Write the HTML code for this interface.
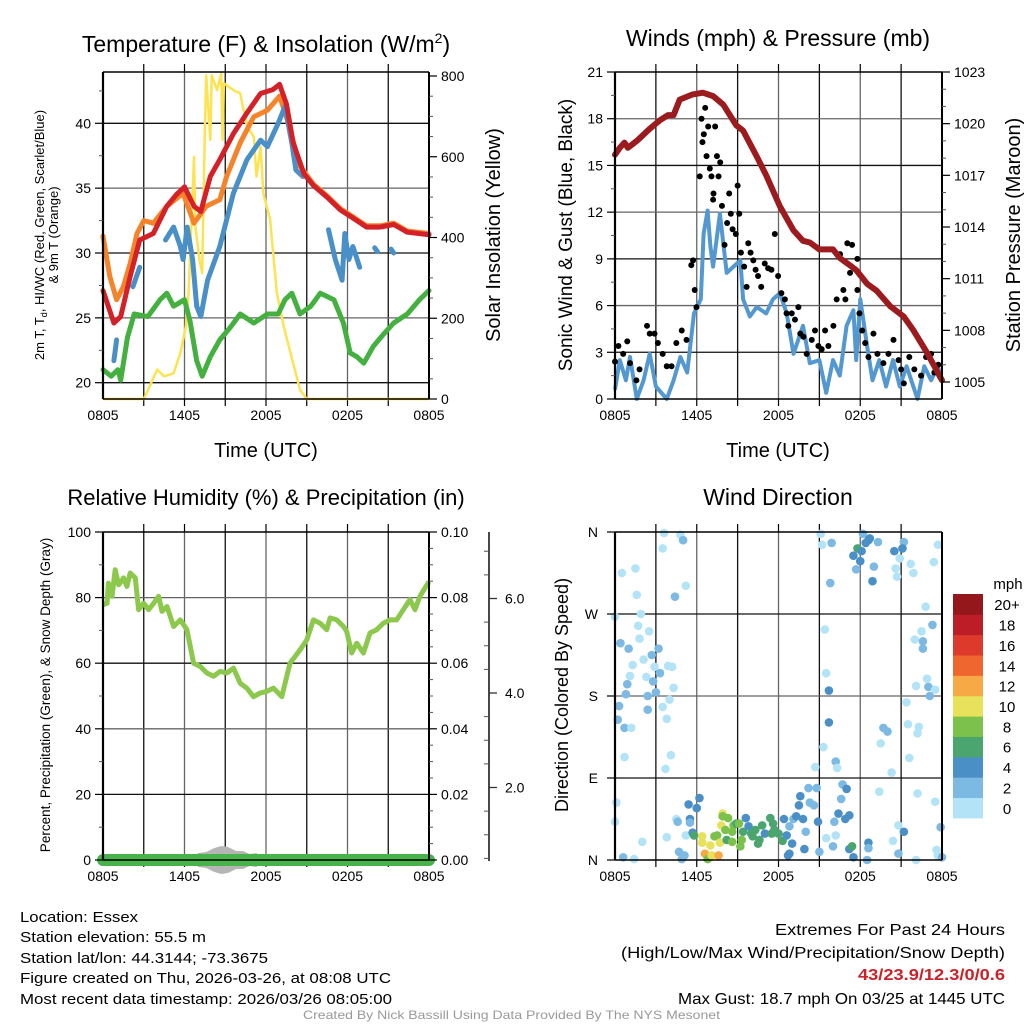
<!DOCTYPE html>
<html><head><meta charset="utf-8">
<style>
html,body{margin:0;padding:0;background:#fff;}
svg{display:block;font-family:"Liberation Sans",sans-serif;}
</style></head>
<body>
<svg id="fig" width="1024" height="1024" viewBox="0 0 1024 1024" xmlns="http://www.w3.org/2000/svg">
<rect width="1024" height="1024" fill="#fff"/>
<g id="p1"></g>
<g id="p2"></g>
<g id="p3"></g>
<g id="p4"></g>
<g font-size="15" fill="#000">
<text x="20" y="922" textLength="118" lengthAdjust="spacingAndGlyphs">Location: Essex</text>
<text x="20" y="942" textLength="186" lengthAdjust="spacingAndGlyphs">Station elevation: 55.5 m</text>
<text x="20" y="963" textLength="248" lengthAdjust="spacingAndGlyphs">Station lat/lon: 44.3144; -73.3675</text>
<text x="20" y="983" textLength="371" lengthAdjust="spacingAndGlyphs">Figure created on Thu, 2026-03-26, at 08:08 UTC</text>
<text x="20" y="1004" textLength="372" lengthAdjust="spacingAndGlyphs">Most recent data timestamp: 2026/03/26 08:05:00</text>
</g>
<g font-size="16" fill="#000">
<text x="775" y="935" textLength="230" lengthAdjust="spacingAndGlyphs">Extremes For Past 24 Hours</text>
<text x="621" y="958" textLength="384" lengthAdjust="spacingAndGlyphs">(High/Low/Max Wind/Precipitation/Snow Depth)</text>
<text x="858" y="980" textLength="147" lengthAdjust="spacingAndGlyphs" fill="#cc2127" font-weight="bold">43/23.9/12.3/0/0.6</text>
<text x="678" y="1004" textLength="327" lengthAdjust="spacingAndGlyphs">Max Gust: 18.7 mph On 03/25 at 1445 UTC</text>
</g>
<text x="303" y="1019" font-size="12" fill="#999" textLength="417" lengthAdjust="spacingAndGlyphs">Created By Nick Bassill Using Data Provided By The NYS Mesonet</text>
</svg>
<script>
// ---------- Panel 1 data (hours after 0805 UTC) ----------
const tHours=[0,0.8,1.3,2,2.7,3.7,4.7,5.4,6,6.7,7.2,7.9,8.6,9.6,10.6,11.6,12.5,13,13.5,14,14.8,15.5,16.5,17.5,18.4,19.4,20.4,21.4,22.4,24];
const tempRed=[27.1,24.6,25.1,28.2,31,31.5,33.6,34.5,35.1,33.6,33.2,35.9,37.2,39.2,40.8,42.3,42.6,43,41.5,38.5,36.1,35.2,34.3,33.3,32.7,32,32,32.2,31.6,31.4];
const t9Hours=[0,0.5,1,1.5,2,2.5,3,3.7,4.7,5.9,6.7,7.6,8.6,9.1,10.1,11.1,12.1,13,13.5,14.5,15.5,16.5,17.5,18.4,19.4,20.4,21.4,22.4,24];
const temp9m=[31.3,28.2,26.4,27.4,29.2,31.5,32.5,32.3,33.6,34.6,32.3,33.6,34.1,35.9,38.5,40.5,41,42.1,40.5,36.7,35.3,34.4,33.4,32.8,32.1,32.1,32.3,31.7,31.5];
const tdHours=[0.8,1.0,null,2.2,2.7,null,4.6,5.2,5.7,5.9,6.2,6.6,6.9,7.2,7.7,8.6,9.6,10.6,11.6,12.1,12.9,13.4,13.9,14.2,14.7,null,16.6,17.1,17.6,17.8,18.1,18.4,18.9,null,20.0,20.2,null,21.2,21.4];
const dewBlue=[21.7,23.3,null,27.4,28.9,null,31,32,30.5,29.5,32,29.5,25.9,25.1,27.9,30.5,34.6,37.2,38.7,38.2,40,41.3,38.5,36.4,35.9,null,31.8,29.5,27.9,31.5,29.5,30.5,28.9,null,30.4,30.1,null,30.3,30.0];
const wcHours=[0,0.6,1.1,1.3,1.8,2.3,3.3,4.2,4.7,5.2,6,6.4,6.9,7.3,7.9,8.6,9.4,10.1,11.1,12.1,12.9,13.4,13.9,14.5,15.3,16,17,17.7,18.2,18.7,19.2,19.9,20.7,21.4,22.4,23.3,24];
const wcGreen=[21,20.5,21,20.2,23.5,25.3,25.1,26.4,26.9,25.9,26.4,24.8,21.7,20.5,22,23.3,24.3,25.3,24.6,25.3,25.3,26.4,26.9,25.3,25.9,26.9,26.4,24.6,22.3,22,21.5,22.8,23.8,24.6,25.3,26.4,27.1];
const solHours=[0,3.0,4.0,4.5,5.2,5.7,6.1,6.3,6.6,6.7,6.8,7.1,7.3,7.5,7.6,7.9,8.0,8.4,8.7,8.8,8.9,9.6,10.1,10.6,11.1,11.3,11.6,11.8,12.3,12.8,13.3,13.8,14.5,15.0,24];
const solar=[0,0,73,56,64,114,180,262,510,600,427,345,312,675,802,642,802,765,806,642,782,765,757,675,650,551,625,510,444,262,180,114,23,0,0];
// ---------- Panel 2 data ----------
const wHours=[0,0.35,0.8,1.1,1.6,2.1,2.55,3.0,3.8,4.3,4.8,5.3,5.8,6.3,6.5,6.8,7.0,7.2,7.7,8.2,8.7,9.2,9.4,9.9,10.4,11.1,11.6,12.1,12.6,13.1,13.8,14.3,15.0,15.5,16.0,16.5,17.0,17.5,17.7,18.0,18.5,18.9,19.4,19.9,20.4,20.9,21.4,22.2,22.7,23.2,23.7,24];
const windSpd=[0.6,2.5,1.2,2.7,0,1.2,2.9,0.8,0,1.2,2.7,1.7,5.5,6.4,10.6,12.1,9.8,8.5,11.9,8.1,8.5,8.9,6.4,5.3,5.9,5.5,6.4,6.8,5.5,2.9,4.7,2.3,2.5,0.4,2.5,1.5,4.7,5.7,2.5,6.4,3.4,1.2,2.5,0.8,2.5,0.8,2.1,0,2.1,1.2,2.1,1.2];
const gustHours=[0,0.25,0.6,0.9,1.1,1.57,1.8,2.35,2.55,2.9,3.15,3.5,3.8,4.15,4.5,4.9,5.25,5.6,5.73,5.85,5.98,6.22,6.35,6.42,6.52,6.62,6.72,6.84,6.96,7.08,7.2,7.23,7.35,7.48,7.6,7.72,7.85,8.04,8.23,8.38,8.5,8.63,8.87,9.0,9.12,9.24,9.48,9.66,9.78,9.95,10.15,10.32,10.5,10.73,10.99,11.24,11.48,11.73,11.97,12.21,12.47,12.59,12.72,12.97,13.21,13.46,13.6,13.83,14.07,14.44,14.68,14.93,15.17,15.42,15.66,16.03,16.27,16.52,16.76,16.91,17.05,17.25,17.4,17.79,17.79,17.94,18.14,18.36,18.6,18.97,19.26,19.7,20.07,20.44,20.81,21.0,21.2,21.6,21.97,22.46,22.83,23.2,23.44,23.73];
const gustSpd=[2.4,3.4,2.9,3.7,2.3,1.2,1.9,4.7,4.2,4.2,3.6,2.9,2.1,2.1,3.6,4.4,3.8,8.6,8.9,7,5.9,14.3,18,16.5,17,18.7,15.6,17.5,14.8,14.3,12.8,13.2,17.5,15.6,14.3,15.2,12.4,9.9,11.3,13.2,11.9,10.9,10.6,13.7,11.9,9.4,8.5,7.2,10,9.4,8.9,8.3,7.9,7.2,8.7,8.4,8.3,10.6,7.9,6.8,6.4,5.5,4.7,5.5,5.1,5.9,4.2,4,2.9,3.8,4.4,3.4,3.2,4.4,3.4,4.7,6.4,9.3,7,6.4,10,8.1,9.9,7,9,5.5,4.4,3.6,2.7,4.2,2.9,2.3,2.9,3.8,2.5,1.9,1,2.7,1.9,1.5,2.7,2.9,1.7,2.2];
const presHours=[0,0.35,0.7,0.95,1.6,2.55,3.3,3.9,4.3,4.75,5.7,6.45,7.2,7.95,8.9,9.4,10.4,11.1,12.1,13.1,13.8,14.3,15.0,16.0,16.5,17.2,17.7,18.5,19.2,20.2,21.2,21.9,22.9,24];
const pressure=[1018.2,1018.6,1018.9,1018.6,1019,1019.7,1020.2,1020.5,1020.5,1021.4,1021.7,1021.8,1021.6,1021.1,1019.9,1019.6,1018.1,1017,1015.2,1013.8,1013.2,1013.1,1012.7,1012.7,1012.2,1011.8,1011.5,1010.7,1010.3,1009.4,1008.8,1008,1006.7,1005.1];
// ---------- Panel 3 data ----------
const rhHours=[0,0.3,0.4,0.66,0.9,1.15,1.52,1.76,2.0,2.38,2.62,2.99,3.36,3.73,4.09,4.34,4.71,5.2,5.69,6.18,6.67,7.16,7.65,8.14,8.63,9.12,9.61,10.1,10.59,11.08,11.57,12.06,12.55,13.16,13.77,14.51,15.0,15.49,15.98,16.47,16.72,17.21,17.7,17.94,18.31,18.68,19.17,19.66,20.15,20.64,21.13,21.62,22.11,22.6,22.97,23.33,24];
const rhPct=[77.8,78.3,84.4,80.4,88.5,83.9,86,83.4,87.5,86,76.3,78.3,76.3,78.3,80.4,75.8,77.3,71.2,73.2,70.2,60,59,57,56,57.5,57,58.5,53.9,52.4,49.8,50.9,51.4,52.4,49.8,60,64.1,67.1,73.2,72.2,70.2,73.8,73.2,71.2,69.7,63.1,66.1,63.1,69.2,70.2,72.2,73.2,73.2,76.3,79.4,76.3,80.4,84.9];
const precipHours=[0,24];
const precipIn=[0,0];
const snowHours=[6.5,7.0,7.6,8.2,8.7,9.2,9.8,10.3,10.8,11.3,11.7];
const snowIn=[0,0.07,0.08,0.12,0.14,0.13,0.09,0.09,0.06,0.07,0];
// ---------- Panel 4 data ----------
const dirHours=[0,0.5,1.5,1.6,1.9,1.7,0.4,1.0,1.8,2.5,1.3,2.1,1.1,2.3,0.9,0.8,0.3,0.2,0.7,1.2,0.7,0.1,0,0.6,1.4,2.0,2.4,2.4,2.7,2.8,3.0,2.9,3.2,3.3,3.9,4.2,4.3,4.0,3.5,3.8,4.1,3.7,3.8,3.6,3.5,4.8,5.0,5.2,4.4,4.5,4.6,4.7,4.9,5.1,5.4,5.5,5.5,5.2,5.7,5.8,6.0,6.2,6.4,6.4,6.6,6.8,7.0,7.1,7.3,7.5,7.6,7.7,7.8,7.9,7.9,8.1,8.2,8.3,8.6,8.7,8.6,8.9,9.1,9.3,9.2,9.4,9.6,9.8,10.0,10.1,10.3,10.5,10.6,10.8,11.0,11.4,11.5,11.6,11.7,12.0,12.3,12.4,12.6,12.7,12.8,13.0,12.8,13.1,13.3,13.5,13.6,13.8,13.9,14.0,14.2,14.3,14.6,14.8,14.7,14.9,15.0,15.3,15.5,15.5,15.7,15.7,15.4,15.8,15.1,15.2,15.9,16.0,16.1,16.2,16.3,16.2,16.4,16.6,16.7,17.0,16.9,17.2,17.2,17.4,17.5,17.5,17.7,17.8,18.0,18.1,18.2,18.4,18.6,18.7,19.0,18.9,19.3,18.5,18.6,18.6,19.4,19.5,19.7,20.0,20.3,20.5,20.6,20.7,20.9,21.2,21.1,20.4,20.8,20.8,21.2,21.4,21.5,21.6,21.7,21.9,22.0,22.1,22.1,22.2,22.2,22.3,22.5,22.6,22.6,22.8,22.9,23.0,23.1,23.3,23.4,23.5,23.6,23.7,23.7,23.9,24.0,23.5];
const dirDeg=[267,315,320,291,270,257,238,232,243,251,214,220,202,201,193,182,169,154,145,145,113,63,42,3,1,20,180,165,225,196,184,212,232,205,213,212,189,176,168,155,115,100,25,359,342,357,351,301,289,45,42,9,1,5,61,45,41,27,30,27,57,68,19,26,7,1,16,5,26,27,5,19,38,51,48,33,22,46,31,38,20,40,40,22,15,31,46,37,29,26,33,18,22,38,29,46,29,40,33,29,21,45,27,5,7,18,37,45,48,60,70,45,12,31,79,63,60,79,102,42,9,124,24,205,186,151,253,304,358,346,348,15,42,108,101,27,51,67,83,78,45,49,12,15,3,334,319,342,328,339,358,348,351,353,322,306,349,0,19,13,75,128,145,141,96,339,320,311,331,349,342,21,7,38,31,173,149,112,325,315,242,191,0,73,139,146,251,232,240,278,199,190,180,258,327,64,11,346,5,36,3,187];
const dirSpd=[1,1,1,1,1,1,3,3,1,1,1,1,1,1,3,3,3,3,3,1,1,1,1,3,1,1,3,3,3,3,3,1,3,3,1,1,1,1,1,1,1,1,1,1,1,1,3,1,3,1,3,3,3,3,5,5,3,1,5,7,5,5,11,11,13,9,11,11,9,9,13,11,11,11,9,9,7,9,9,9,9,7,9,9,9,7,5,5,7,7,7,7,7,7,5,7,7,7,7,7,7,5,5,5,5,5,3,3,5,5,5,5,5,3,3,3,3,3,1,5,3,1,1,1,5,5,1,3,1,1,3,3,3,3,1,1,5,3,3,5,5,5,5,7,5,5,3,7,5,5,3,5,5,5,3,5,3,3,5,3,1,1,3,3,1,5,1,1,1,3,5,1,3,1,5,1,1,1,1,1,1,1,1,1,1,1,1,3,3,1,1,3,3,3,1,1,1,1,1,3,3,1,1,1];
const cbLabels=["0","2","4","6","8","10","12","14","16","18","20+"];
const cbColors=["#b3e3f7","#7cb9e3","#4a90c6","#4aa56f","#7cc14c","#e7e15b","#f7a946","#ef662f","#dd3a2b","#bd1d26","#93171b"];

const NS="http://www.w3.org/2000/svg";
function mk(parent,tag,attrs){const e=document.createElementNS(NS,tag);for(const k in attrs)e.setAttribute(k,attrs[k]);parent.appendChild(e);return e;}
function txt(parent,x,y,s,size,anchor,extra){const e=mk(parent,'text',Object.assign({x:x,y:y,'font-size':size,'text-anchor':anchor||'middle',fill:'#000'},extra||{}));e.textContent=s;return e;}

const X0l=103,X1l=429,X0r=615,X1r=942;
function xs(x0,x1){return h=>x0+(x1-x0)*h/24;}
function ys(y0,y1,v0,v1){return v=>y0+(y1-y0)*(v-v0)/(v1-v0);}

function frame(g,x0,x1,yT,yB,hGrid,name){
  const fg=mk(g,'g',{});
  
  
  for(let i=1;i<8;i++){const x=x0+(x1-x0)*i/8;mk(fg,'line',{x1:x,y1:yT,x2:x,y2:yB,stroke:i%2?'#111':'#666','stroke-width':1.3});
    mk(fg,'line',{x1:x,y1:yT-8,x2:x,y2:yT,stroke:'#000','stroke-width':1.2});
    mk(fg,'line',{x1:x,y1:yB,x2:x,y2:yB+7,stroke:'#000','stroke-width':1.2});}
  hGrid.forEach((y,i)=>mk(fg,'line',{x1:x0,y1:y,x2:x1,y2:y,stroke:i%2?'#666':'#111','stroke-width':1.3}));
  const labs=["0805","1405","2005","0205","0805"];
  for(let i=0;i<5;i++){const t=txt(fg,x0+(x1-x0)*i/4,yB+21,labs[i],14);
    
    }
  return fg;
}
function border(g,x0,x1,yT,yB){
  mk(g,'line',{x1:x0,y1:yT,x2:x1,y2:yT,stroke:'#000','stroke-width':1.5});
  mk(g,'line',{x1:x0,y1:yB,x2:x1,y2:yB,stroke:'#000','stroke-width':1.5});
  mk(g,'line',{x1:x0,y1:yT,x2:x0,y2:yB,stroke:'#000','stroke-width':2.2});
  mk(g,'line',{x1:x1,y1:yT,x2:x1,y2:yB,stroke:'#000','stroke-width':2});
}
function yTicks(g,x,vals,sy,labels,side,minorVals){
  vals.forEach((v,i)=>{const y=sy(v);mk(g,'line',{x1:x,y1:y,x2:x+(side<0?-8:8),y2:y,stroke:'#000','stroke-width':1.2});
    const t=txt(g,side<0?x-12:x+12,y+5,labels[i],14,side<0?'end':'start');
    
    });
  (minorVals||[]).forEach(v=>{const y=sy(v);mk(g,'line',{x1:x,y1:y,x2:x+(side<0?-4:4),y2:y,stroke:'#555','stroke-width':1});});
}
function pathD(hs,vs,sx,sy){let d='',pen=false;for(let i=0;i<hs.length;i++){if(hs[i]===null||vs[i]===null||vs[i]===undefined){pen=false;continue;}d+=(pen?'L':'M')+sx(hs[i]).toFixed(1)+','+sy(vs[i]).toFixed(1);pen=true;}return d;}
function rng(a,b,s){const r=[];for(let v=a;v<=b+1e-9;v+=s)r.push(+v.toFixed(4));return r;}

// ---------- Panel 1 ----------
(function(){
 const g=document.getElementById('p1');const yT=72,yB=399;
 const sx=xs(X0l,X1l),sy=ys(382.7,123.3,20,40),ss=ys(399,76,0,800);
 frame(g,X0l,X1l,yT,yB,[20,25,30,35,40].map(sy),'temperature');
 const lines=[[solHours,solar,ss,'#fde34f',2.5,'solar-insolation-line'],[wcHours,wcGreen,sy,'#44b040',5,'heat-index-wind-chill-line'],[t9Hours,temp9m,sy,'#f5832a',5,'temp-9m-line'],[tdHours,dewBlue,sy,'#4a90c8',5,'dewpoint-line'],[tHours,tempRed,sy,'#d42127',5,'temp-2m-line']];
 lines.forEach(l=>{const p=mk(g,'path',{d:pathD(l[0],l[1],sx,l[2]),fill:'none',stroke:l[3],'stroke-width':l[4],'stroke-linejoin':'round','stroke-linecap':'round'});
  
  });
 border(g,X0l,X1l,yT,yB);
 yTicks(g,X0l,[20,25,30,35,40],sy,["20","25","30","35","40"],-1,[22.5,27.5,32.5,37.5,42.5]);
 yTicks(g,X1l,[0,200,400,600,800],ss,["0","200","400","600","800"],1,[50,100,150,250,300,350,450,500,550,650,700,750]);
 const t=txt(g,266,52,"Temperature (F) & Insolation (W/m",23);const ts=mk(t,'tspan',{dy:-9,'font-size':14});ts.textContent="2";const ts2=mk(t,'tspan',{dy:9});ts2.textContent=")";
 
 const xt=txt(g,266,457,"Time (UTC)",20);
 const yl=mk(g,'text',{transform:'translate(44,235) rotate(-90)','font-size':13,'text-anchor':'middle'});
 
 yl.innerHTML='2m T, T<tspan font-size="9" dy="3">d</tspan><tspan dy="-3">, HI/WC (Red, Green, Scarlet/Blue)</tspan>';
 const yl2=txt(g,0,0,"& 9m T (Orange)",13);yl2.setAttribute('transform','translate(58,235) rotate(-90)');
 const yr=txt(g,0,0,"Solar Insolation (Yellow)",20);yr.setAttribute('transform','translate(500,235) rotate(-90)');
 
})();

// ---------- Panel 2 ----------
(function(){
 const g=document.getElementById('p2');const yT=72,yB=399;
 const sx=xs(X0r,X1r),sy=ys(399,72,0,21),sp=ys(382,72,1005,1023);
 frame(g,X0r,X1r,yT,yB,[3,6,9,12,15,18].map(sy),'wind');
 const w=mk(g,'path',{d:pathD(wHours,windSpd,sx,sy),fill:'none',stroke:'#5398d0','stroke-width':4,'stroke-linejoin':'round'});
 
 const dots=mk(g,'g',{});
 gustHours.forEach((h,i)=>{if(gustSpd[i]===undefined)return;const c=mk(dots,'circle',{cx:sx(h),cy:sy(gustSpd[i]),r:3,fill:'#000'});
  });
 const p=mk(g,'path',{d:pathD(presHours,pressure,sx,sp),fill:'none',stroke:'#9b1b1e','stroke-width':6,'stroke-linejoin':'round','stroke-linecap':'round'});
 
 border(g,X0r,X1r,yT,yB);
 yTicks(g,X0r,[0,3,6,9,12,15,18,21],sy,["0","3","6","9","12","15","18","21"],-1,[1.5,4.5,7.5,10.5,13.5,16.5,19.5]);
 yTicks(g,X1r,[1005,1008,1011,1014,1017,1020,1023],sp,["1005","1008","1011","1014","1017","1020","1023"],1,rng(1005,1023,1).filter(v=>v%3));
 const t=txt(g,778,46,"Winds (mph) & Pressure (mb)",23);
 txt(g,778,457,"Time (UTC)",20);
 const yl=txt(g,0,0,"Sonic Wind & Gust (Blue, Black)",19);yl.setAttribute('transform','translate(572,235) rotate(-90)');
 const yr=txt(g,0,0,"Station Pressure (Maroon)",20);yr.setAttribute('transform','translate(1020,235) rotate(-90)');
})();

// ---------- Panel 3 ----------
(function(){
 const g=document.getElementById('p3');const yT=532,yB=860;
 const sx=xs(X0l,X1l),sy=ys(860,532,0,100),spr=ys(860,532,0,0.1);
 frame(g,X0l,X1l,yT,yB,[20,40,60,80].map(sy),'humidity');
 const rh=mk(g,'path',{d:pathD(rhHours,rhPct,sx,sy),fill:'none',stroke:'#8cc84b','stroke-width':5,'stroke-linejoin':'round'});
 
 const half=v=>Math.min(14,v*100);
 let d='M'+sx(snowHours[0]).toFixed(1)+','+yB;
 snowHours.forEach((h,i)=>{d+='L'+sx(h).toFixed(1)+','+(yB-half(snowIn[i])).toFixed(1);});
 for(let i=snowHours.length-1;i>=0;i--){d+='L'+sx(snowHours[i]).toFixed(1)+','+(yB+half(snowIn[i])).toFixed(1);}
 const sn=mk(g,'path',{d:d+'Z',fill:'#b5b5b5'});
 const pr=mk(g,'path',{d:pathD(precipHours,precipIn,sx,spr),fill:'none',stroke:'#47b34a','stroke-width':12,'stroke-linecap':'round'});
 
 border(g,X0l,X1l,yT,yB);
 yTicks(g,X0l,[0,20,40,60,80,100],sy,["0","20","40","60","80","100"],-1,[10,30,50,70,90]);
 yTicks(g,X1l,[0,0.02,0.04,0.06,0.08,0.1],spr,["0.00","0.02","0.04","0.06","0.08","0.10"],1,rng(0.005,0.095,0.005).filter((v,i)=>i%4!==3));
 const sa=mk(g,'g',{});
 mk(sa,'line',{x1:489,y1:532,x2:489,y2:861,stroke:'#333','stroke-width':1.8});
 const snY=v=>882-47.25*v;
 [2,4,6].forEach(v=>{mk(sa,'line',{x1:489,y1:snY(v),x2:497,y2:snY(v),stroke:'#333','stroke-width':1.3});txt(sa,505,snY(v)+5,v.toFixed(1),14,'start');});
 [0.5,1,1.5,2.5,3,3.5,4.5,5,5.5,6.5,7,7.5].forEach(v=>{const y=snY(v);if(y>=532&&y<=860)mk(sa,'line',{x1:489,y1:y,x2:484,y2:y,stroke:'#555','stroke-width':1});});
 const t=txt(g,266,505,"Relative Humidity (%) & Precipitation (in)",22);
 const yl=txt(g,0,0,"Percent, Precipitation (Green), & Snow Depth (Gray)",13.5);yl.setAttribute('transform','translate(50,695) rotate(-90)');
})();

// ---------- Panel 4 ----------
(function(){
 const g=document.getElementById('p4');const yT=532,yB=860;
 const sx=xs(X0r,X1r),sy=ys(860,532,0,360);
 frame(g,X0r,X1r,yT,yB,[90,180,270].map(sy),'direction');
 const bin=s=>Math.min(10,Math.floor(s/2));
 const dg=mk(g,'g',{});
 dirHours.forEach((h,i)=>{const c=mk(dg,'circle',{cx:sx(h),cy:sy(dirDeg[i]),r:4.3,fill:cbColors[bin(dirSpd[i])]});
  });
 border(g,X0r,X1r,yT,yB);
 [0,90,180,270,360].forEach((v,i)=>{const y=sy(v);mk(g,'line',{x1:X0r-8,y1:y,x2:X0r,y2:y,stroke:'#000','stroke-width':1.2});
  const t=txt(g,X0r-17,y+5,["N","E","S","W","N"][i],14,'end');});
 const t=txt(g,778,505,"Wind Direction",23);
 const yl=txt(g,0,0,"Direction (Colored By Speed)",18);yl.setAttribute('transform','translate(568,695) rotate(-90)');
 const cb=mk(g,'g',{});
 const h=(818-594)/11;
 cbColors.forEach((c,i)=>{const y=818-(i+1)*h;mk(cb,'rect',{x:953,y:y,width:30,height:h+0.4,fill:c});
  const l=txt(cb,1007,y+h/2+6,cbLabels[i],15);});
 txt(cb,1008,589,"mph",15);
})();
</script>
</body></html>
